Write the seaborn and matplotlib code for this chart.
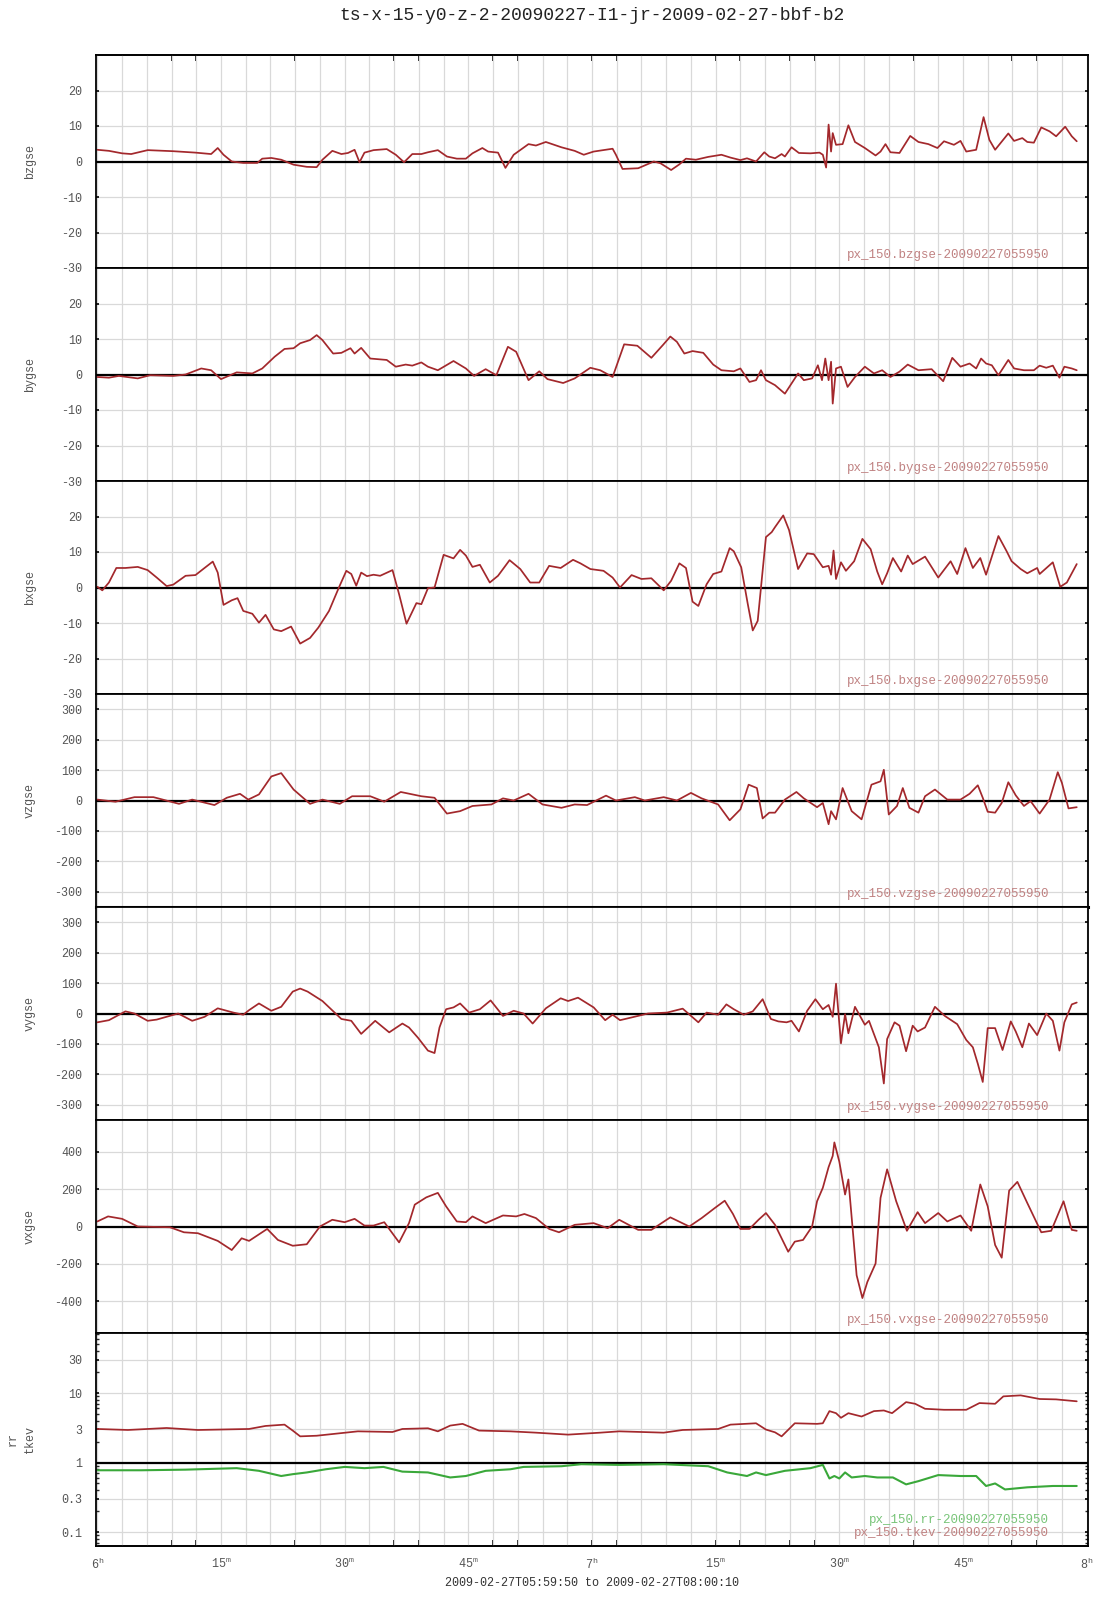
import matplotlib
matplotlib.use("Agg")
import matplotlib.pyplot as plt
import seaborn as sns
import pandas as pd
from matplotlib.ticker import FixedLocator, MultipleLocator, FixedFormatter, NullFormatter

title = "ts-x-15-y0-z-2-20090227-I1-jr-2009-02-27-bbf-b2"
range_label = "2009-02-27T05:59:50 to 2009-02-27T08:00:10"

# time in minutes after 06:00
t_bz = [0, 1.4, 3, 4.1, 6.1, 9.2, 11.9, 13.8, 14.6, 15.3, 16.3, 17.7, 19.4, 20, 21.1, 22.3, 23.8, 25.4, 26.6,
        27.3, 28.5, 29.6, 30.4, 31.2, 31.8, 32.4, 33.5, 35.1, 36.2, 37.2, 38.2, 39.3, 40.1, 41.3, 42.4, 43.6,
        44.7, 45.5, 46.7, 47.4, 48.6, 49.5, 50.5, 52.3, 53.2, 54.4, 56.3, 57.9, 59, 60.2, 62.5, 62.9, 63.7,
        65.6, 67.5, 68.3, 69.6, 70.6, 71.4, 72.6, 74.1, 75.7, 76.8, 78, 78.8, 79.9, 80.9, 81.5, 82.2, 83,
        83.4, 84.2, 85.1, 86.5, 87.6, 88, 88.4, 88.7, 89, 89.2, 89.6, 90.4, 91.1, 91.9, 93.1, 94.4, 95, 95.6,
        96.2, 97.3, 98.6, 99.6, 100.8, 101.9, 102.7, 103.9, 104.7, 105.4, 106.6, 107.5, 108.2, 108.9, 110.5,
        111.2, 112.2, 112.8, 113.6, 114.5, 115.5, 116.3, 117.4, 118.2, 118.8]
bzgse = [3.3, 3.0, 2.3, 2.1, 3.2, 2.9, 2.5, 2.1, 3.8, 1.9, 0, -0.4, -0.4, 0.8, 1.0, 0.5, -0.9, -1.5, -1.6,
         0.5, 3.0, 2.1, 2.4, 3.3, -0.2, 2.5, 3.2, 3.5, 1.9, -0.2, 2.1, 2.1, 2.6, 3.2, 1.4, 0.8,
         0.8, 2.3, 3.8, 2.8, 2.5, -1.8, 1.9, 4.9, 4.5, 5.5, 4.0, 3.0, 1.9, 2.8, 3.6, 1.9, -2.1,
         -1.9, 0, -0.5, -2.4, -0.8, 0.8, 0.5, 1.3, 1.9, 1.1, 0.4, 0.9, 0, 2.6, 1.4, 0.9, 2.1,
         1.4, 4.0, 2.4, 2.3, 2.5, 1.9, -1.7, 10.4, 2.8, 8.0, 4.7, 4.9, 10.2, 5.5, 3.8, 1.7, 2.8, 4.9,
         2.6, 2.4, 7.2, 5.5, 4.9, 3.8, 5.7, 4.7, 5.8, 2.8, 3.3, 12.5, 6.1, 3.3, 7.9,
         5.8, 6.6, 5.5, 5.3, 9.6, 8.5, 7.1, 9.8, 7.1, 5.7]

t_by = [0, 1.4, 2.6, 4.9, 6.4, 9.2, 10.7, 12.6, 13.8, 15, 16.9, 18.8, 20, 21.5, 22.7, 23.8, 24.6, 25.8, 26.6,
        27.3, 28.6, 29.6, 30.7, 31.2, 32, 33.1, 35.1, 36.2, 37.4, 38.2, 39.3, 40.1, 41.3, 43.2, 44.7, 45.7,
        47.1, 48.4, 49.8, 50.8, 52.3, 53.6, 54.6, 56.5, 57.9, 59.8, 61, 62.5, 63.9, 65.5, 67.2, 68.6, 69.5,
        70.3, 71.2, 72.2, 73.5, 74.7, 75.7, 77.2, 78, 79.1, 79.9, 80.5, 81.1, 82.2, 83.4, 85, 85.7, 86.7,
        87.4, 87.9, 88.3, 88.7, 89, 89.2, 89.6, 90.2, 91, 91.9, 93.1, 94.2, 95.2, 96.2, 97.3, 98.3, 99.6,
        101.2, 102.6, 103.7, 104.7, 105.8, 106.6, 107.2, 107.8, 108.5, 109.3, 110.5, 111.2, 112.4, 113.6,
        114.3, 115.1, 115.9, 116.7, 117.3, 118.2, 118.8]
bygse = [-0.7, -0.9, -0.4, -1.1, -0.2, -0.4, 0, 1.7, 1.2, -1.3, 0.6, 0.3, 1.7, 5.0, 7.2, 7.4, 8.8, 9.7, 11.1,
         9.7, 5.9, 6.1, 7.4, 5.9, 7.5, 4.5, 4.1, 2.2, 2.8, 2.5, 3.4, 2.2, 1.2, 3.8, 1.7, -0.4,
         1.5, -0.2, 7.8, 6.4, -1.6, 0.9, -1.3, -2.4, -1.1, 1.9, 1.2, -0.7, 8.5, 8.1, 4.7, 8.3, 10.7,
         9.2, 5.9, 6.6, 6.1, 2.8, 1.2, 0.9, 1.7, -2.1, -1.6, 1.2, -1.6, -3.0, -5.4, 0.3, -1.6, -1.1,
         2.6, -1.6, 4.5, -1.6, 3.6, -8.2, 1.7, 2.2, -3.5, -0.7, 2.2, 0.3, 1.2, -0.7, 0.8, 2.8, 1.2,
         1.5, -1.9, 4.7, 2.2, 3.1, 1.7, 4.5, 3.1, 2.6, -0.2, 4.1, 1.7, 1.2, 1.2,
         2.5, 1.9, 2.5, -0.9, 2.2, 1.7, 1.2]

t_bx = [0, 0.6, 1.4, 2.3, 3.4, 4.9, 6.1, 7.2, 8.4, 9.2, 10.7, 11.9, 13, 14, 14.6, 15.3, 16.3, 17.0, 17.7, 18.8,
        19.6, 20.4, 21.4, 22.3, 23.5, 24.6, 25.8, 26.8, 28.1, 29.3, 30.2, 30.8, 31.4, 32, 32.7, 33.5, 34.3,
        35.8, 36.6, 37.5, 38.7, 39.3, 40.1, 40.9, 42, 43.2, 44, 44.7, 45.5, 46.4, 47.6, 48.6, 50, 51.3, 52.5,
        53.6, 54.8, 56.2, 57.7, 58.6, 59.8, 61.4, 62.5, 63.4, 64.8, 66, 67.2, 68.7, 69.6, 70.6, 71.4, 72.2,
        72.9, 73.9, 74.7, 75.7, 76.7, 77.2, 78.1, 78.9, 79.5, 80.1, 81.1, 81.8, 82.2, 83.2, 83.9, 85, 86.1,
        86.9, 88, 88.7, 89, 89.3, 89.6, 90.2, 90.8, 91.8, 92.8, 93.8, 94.6, 95.2, 95.8, 96.5, 97.5, 98.3,
        98.9, 100.4, 102, 103.5, 104.3, 105.3, 106.2, 107.1, 107.8, 109.3, 110.3, 110.9, 112.0, 112.8, 114.0,
        114.3, 115.9, 116.8, 117.6, 118.8]
bxgse = [0.2, -0.8, 1.4, 5.5, 5.5, 5.8, 4.9, 2.8, 0.4, 0.8, 3.3, 3.5, 5.5, 7.3, 4.2, -4.9, -3.6, -3.0, -6.6, -7.4,
         -9.9, -7.7, -11.8, -12.3, -11.0, -15.8, -14.2, -11.3, -6.6, 0, 4.7, 3.8, 0.5, 4.2, 3.2, 3.6, 3.3,
         4.9, -1.9, -10.2, -4.4, -4.7, -0.2, 0, 9.2, 8.2, 10.6, 9.0, 5.8, 6.4, 1.4, 3.3, 7.7, 5.2, 1.4,
         1.4, 6.1, 5.5, 7.8, 6.8, 5.2, 4.7, 2.8, 0, 3.5, 2.4, 2.6, -0.8, 1.9, 6.8, 5.5, -4.0,
         -5.2, 0.9, 3.8, 4.5, 11.1, 10.2, 5.7, -4.7, -12.1, -9.4, 14.2, 15.6, 17.0, 20.3, 16.2, 5.2, 9.6,
         9.4, 5.7, 6.1, 3.6, 10.4, 2.4, 7.1, 4.7, 7.4, 13.7, 10.8, 4.5, 0.9, 4.0, 8.3, 4.5, 9.0,
         6.6, 8.7, 2.8, 7.4, 3.8, 11.1, 5.5, 8.3, 3.6, 14.5, 10.2, 7.4, 5.2, 4.0, 5.5,
         3.8, 7.1, 0.2, 1.4, 6.6]

t_vz = [0, 2.2, 4.5, 6.8, 9.9, 11.5, 14.2, 15.7, 17.3, 18.3, 19.6, 21.1, 22.3, 23.8, 25.8, 27.3, 29.4, 30.9,
        33.1, 34.8, 36.8, 39.3, 40.9, 42.4, 44, 45.5, 47.8, 49.2, 50.5, 52.3, 54, 56.3, 57.9, 59.4, 61.7,
        62.9, 65.2, 66.4, 68.7, 70.3, 72, 73.3, 75.3, 76.7, 78, 79, 80, 80.7, 81.5, 82.2, 83.4, 84.8, 85.7,
        87.3, 88, 88.7, 89, 89.6, 90.4, 91.5, 92.7, 93.9, 95, 95.4, 96, 97, 97.7, 98.5, 99.6, 100.4, 101.6,
        103.1, 104.7, 105.8, 106.8, 107.4, 108, 108.9, 109.7, 110.5, 111.4, 112.4, 113.2, 114.3, 115.5,
        116.5, 117, 117.8, 118.8]
vzgse = [3, -4, 11, 11, -11, 3, -15, 9, 22, 3, 20, 79, 90, 36, -11, 3, -11, 14,
         14, -4, 28, 14, 9, -43, -35, -18, -13, 7, 0, 22, -13, -24, -13, -15, 16,
         0, 11, 0, 11, 0, 25, 7, -13, -65, -29, 52, 41, -59, -40, -40, 3, 28, 7,
         -22, -8, -78, -35, -62, 41, -35, -62, 52, 63, 101, -46, -18, 41, -24, -40, 14, 36,
         3, 3, 22, 50, 9, -37, -40, -8, 60, 17, -18, -2, -43, 3,
         93, 58, -26, -22]

t_vy = [0, 1.4, 3.4, 4.5, 6.1, 7.2, 9.8, 11.5, 13, 14.6, 16.5, 17.7, 18.4, 19.6, 21.1, 22.3, 23.7, 24.6, 25.5,
        27.3, 29.6, 30.8, 32, 33.7, 35.4, 37, 37.8, 38.9, 40.1, 40.9, 41.5, 42.3, 43.2, 44, 45.1, 46.4, 47.7,
        49.2, 50.5, 51.7, 52.8, 54.4, 56.2, 57.1, 58.3, 60.2, 61.6, 62.5, 63.4, 64.8, 66.8, 69.1, 71, 72.9,
        73.9, 75.3, 76.3, 77.2, 78.4, 79.5, 80.7, 81.7, 82.6, 83.6, 84.2, 85.1, 86.1, 87.1, 88, 88.7, 89.2,
        89.6, 90.2, 90.7, 91.1, 91.9, 93.1, 93.6, 94.8, 95.4, 95.8, 96.7, 97.3, 98.1, 98.9, 99.5, 100.4,
        101.6, 102.8, 104.3, 105.4, 106.2, 106.8, 107.4, 108, 108.9, 109.8, 110.8, 111.4, 112.2, 113, 114,
        115.1, 115.9, 116.7, 117.3, 118.2, 118.8]
vygse = [-29, -22, 7, 0, -24, -20, 0, -24, -11, 17, 3, -4, 11, 33, 9, 22, 72, 82, 72,
         41, -18, -24, -67, -24, -62, -33, -46, -80, -122, -130, -46, 14, 20, 33, 3, 14, 43,
         -8, 9, 0, -33, 17, 50, 41, 52, 20, -22, -4, -22, -13, 0, 3, 16, -29,
         3, -4, 30, 14, -4, 7, 47, -18, -26, -29, -24, -59, 9, 47, 14, 28, -11,
         98, -98, -2, -65, 22, -37, -24, -111, -230, -84, -29, -40, -124, -40, -59, -46,
         22, -8, -35, -87, -111, -165, -225, -48, -48, -120, -26, -59, -111, -33, -71,
         0, -24, -122, -29, 30, 36]

t_vx = [0, 1.3, 3, 4.9, 8.8, 10.5, 12.2, 14.6, 16.3, 17.5, 18.4, 20.6, 21.9, 23.7, 25.4, 27, 28.5, 30.0, 31.2,
        32.4, 33.5, 34.8, 36.6, 37.8, 38.5, 39.9, 41.3, 42.3, 43.6, 44.7, 45.5, 47.1, 49.2, 50.8, 51.8, 53.2,
        54.8, 56, 57.9, 60.2, 61.9, 63.3, 65.6, 67.2, 69.5, 71.8, 73.3, 74.9, 76.1, 77.1, 78, 79.1, 80.2,
        81.1, 82.2, 83.8, 84.6, 85.6, 86.7, 87.3, 88.0, 88.7, 89.2, 89.4, 90, 90.7, 91.1, 91.7, 92.1, 92.8,
        93.4, 94.4, 95.0, 95.8, 96.9, 98.2, 99.5, 100.4, 102, 103.1, 104.7, 106, 107.1, 108, 108.9, 109.7,
        110.6, 111.6, 112.8, 114.5, 115.7, 117.2, 118.2, 118.8]
vxgse = [27, 54, 41, 0, -4, -31, -36, -77, -126, -63, -77, -13, -72, -103, -95, 0, 36, 23, 41,
         5, 5, 23, -85, 18, 117, 156, 180, 108, 27, 23, 54, 18, 59, 54, 67, 45,
         -13, -31, 9, 18, -9, 36, -18, -18, 49, 0, 45, 99, 138, 67, -13, -13, 36,
         72, 9, -135, -81, -72, 0, 135, 207, 318, 378, 450, 347, 171, 252, -54, -261, -383,
         -297, -198, 153, 306, 135, -23, 77, 18, 72, 27, 59, -23, 225, 108, -99, -167,
         192, 239, 126, -31, -23, 135, -18, -23]

t_tk = [0, 3.7, 8.4, 12.2, 18.4, 20.4, 22.7, 23.7, 24.6, 26.6, 31.6, 35.8, 37, 40.1, 41.3, 42.8, 44.3, 46.3,
        50.1, 53.2, 57.1, 61, 63.3, 68.7, 71, 75.3, 76.8, 79.9, 81.1, 82.2, 83, 84.6, 87.3, 88.0, 88.8, 89.6,
        90.2, 91.1, 92.7, 94.2, 95.4, 96.4, 98.1, 99.2, 100.4, 102.7, 105.4, 107, 108.9, 109.9, 112.0, 114.3,
        116.3, 118.8]
tkev = [3.04, 2.94, 3.14, 2.94, 3.04, 3.36, 3.51, 2.88, 2.38, 2.43, 2.81, 2.75, 3.04, 3.11, 2.81, 3.40, 3.60, 2.88,
        2.81, 2.69, 2.52, 2.69, 2.81, 2.69, 2.94, 3.04, 3.51, 3.67, 2.98, 2.72, 2.38, 3.67, 3.60, 3.67, 5.49, 5.13,
        4.40, 5.13, 4.59, 5.49, 5.61, 5.13, 7.4, 7.0, 5.93, 5.74, 5.74, 7.17, 7.0, 8.95, 9.25, 8.2,
        8.1, 7.6]

t_rr = [0, 5.3, 10.7, 16.9, 19.6, 22.3, 23.7, 25.4, 27.7, 30.0, 32.4, 34.7, 37, 40.1, 42.8, 44.7, 47.1, 50.1,
        51.7, 56.3, 58.7, 63.3, 68.7, 74.1, 76.4, 78.8, 79.9, 81.1, 83.4, 86.5, 88, 88.8, 89.4, 90, 90.7, 91.5,
        93.1, 94.6, 96.5, 98.1, 99.6, 102, 104.7, 106.6, 107.8, 108.9, 110.1, 112.8, 115.9, 118.8]
rr = [0.774, 0.774, 0.79, 0.83, 0.76, 0.64, 0.68, 0.72, 0.80, 0.865, 0.83, 0.865, 0.74, 0.72, 0.61, 0.64, 0.76, 0.80,
      0.865, 0.885, 0.946, 0.925, 0.946, 0.885, 0.72, 0.64, 0.72, 0.66, 0.76, 0.83, 0.925, 0.59, 0.64, 0.59, 0.72, 0.61,
      0.64, 0.61, 0.61, 0.485, 0.54, 0.66, 0.64, 0.64, 0.46, 0.50, 0.41, 0.44, 0.46, 0.46]

lin_ticks_b = [20, 10, 0, -10, -20, -30]
lin_ticks_v = [300, 200, 100, 0, -100, -200, -300]
lin_ticks_vx = [400, 200, 0, -200, -400]
log_ticks = [30, 10, 3, 1, 0.3, 0.1]
log_tick_labels = ["30", "10", "3", "1", "0.3", "0.1"]
x_label_pos = [0, 15, 30, 45, 60, 75, 90, 105, 120]
x_labels = ["6^{h}", "15^{m}", "30^{m}", "45^{m}", "7^{h}", "15^{m}", "30^{m}", "45^{m}", "8^{h}"]
odd_ticks = [9, 12, 24, 36, 39, 48, 51, 60, 63, 75, 78, 84, 87, 99, 111, 114]
stamp = "20090227055950"

RED = "#a3282c"
GREEN = "#3aa83a"
RED_TXT = "#c08282"
GREEN_TXT = "#78c478"
GRAY = "#555555"
GRID = "#d9d9d9"

sns.set_theme(style="white")
plt.rcParams["font.family"] = ["Liberation Mono", "DejaVu Sans Mono"]
plt.rcParams["axes.unicode_minus"] = False
plt.rcParams["mathtext.default"] = "regular"

fig = plt.figure(figsize=(11.07, 16), dpi=100)
axes = fig.subplots(7, 1, sharex=True, gridspec_kw=dict(hspace=0))
fig.subplots_adjust(left=96 / 1107, right=1088 / 1107, top=1 - 55 / 1600, bottom=1 - 1546 / 1600)

panels = [
    ("bzgse", t_bz, bzgse, (-30, 30), lin_ticks_b),
    ("bygse", t_by, bygse, (-30, 30), lin_ticks_b),
    ("bxgse", t_bx, bxgse, (-30, 30), lin_ticks_b),
    ("vzgse", t_vz, vzgse, (-350, 350), lin_ticks_v),
    ("vygse", t_vy, vygse, (-350, 350), lin_ticks_v),
    ("vxgse", t_vx, vxgse, (-570, 570), lin_ticks_vx),
]

def style_axis(ax):
    for s in ax.spines.values():
        s.set_color("black")
        s.set_linewidth(1.3)
        s.set_visible(True)
    ax.set_xlim(-10 / 60, 120 + 10 / 60)
    ax.xaxis.set_major_locator(FixedLocator(x_label_pos))
    ax.xaxis.set_minor_locator(MultipleLocator(3))
    ax.tick_params(axis="x", which="both", length=0, labelbottom=False)
    ax.xaxis.grid(True, which="both", color=GRID, lw=0.9)
    ax.yaxis.grid(True, which="major", color=GRID, lw=0.9)
    ax.yaxis.grid(False, which="minor")
    ax.tick_params(axis="y", which="major", direction="in", length=2.5, width=1.2, left=True, right=True,
                   labelleft=True, labelright=False, pad=10, labelsize=8.5, labelcolor=GRAY, color="black")
    ax.set_xlabel("")
    ax.set_ylabel("")
    ax.set_axisbelow(True)

for ax, (name, t, v, lim, ticks) in zip(axes[:6], panels):
    df = pd.DataFrame({"t": t, "v": v})
    sns.lineplot(data=df, x="t", y="v", ax=ax, color=RED, lw=1.25, estimator=None, sort=False)
    ax.axhline(0, color="black", lw=1.6, zorder=1.5)
    ax.set_ylim(*lim)
    ax.yaxis.set_major_locator(FixedLocator(ticks))
    ax.yaxis.set_major_formatter(FixedFormatter([str(x) for x in ticks]))
    style_axis(ax)
    ax.text(-0.0665, 0.5, name, transform=ax.transAxes, rotation=90, ha="center", va="center",
            fontsize=8.5, color=GRAY)
    ax.text(0.961, 0.061, f"px_150.{name}-{stamp}", transform=ax.transAxes, ha="right", va="center",
            fontsize=9, color=RED_TXT)

axes[3].spines["bottom"].set_linewidth(2.2)

ax = axes[6]
ax.set_yscale("log")
sns.lineplot(data=pd.DataFrame({"t": t_tk, "v": tkev}), x="t", y="v", ax=ax, color=RED, lw=1.25,
             estimator=None, sort=False)
sns.lineplot(data=pd.DataFrame({"t": t_rr, "v": rr}), x="t", y="v", ax=ax, color=GREEN, lw=1.5,
             estimator=None, sort=False)
ax.axhline(1, color="black", lw=1.6, zorder=1.5)
ax.set_ylim(0.063, 73)
ax.yaxis.set_major_locator(FixedLocator(log_ticks))
ax.yaxis.set_major_formatter(FixedFormatter(log_tick_labels))
ax.yaxis.set_minor_formatter(NullFormatter())
style_axis(ax)
ax.tick_params(axis="y", which="minor", direction="in", length=2, width=1, left=True, right=True)
ax.text(-0.0751, 0.5, "rr\ntkev", transform=ax.transAxes, rotation=90, ha="center", va="center",
        fontsize=8.5, color=GRAY, linespacing=1.6, multialignment="center")
ax.text(0.961, 0.122, f"px_150.rr-{stamp}", transform=ax.transAxes, ha="right", va="center",
        fontsize=9, color=GREEN_TXT)
ax.text(0.961, 0.061, f"px_150.tkev-{stamp}", transform=ax.transAxes, ha="right", va="center",
        fontsize=9, color=RED_TXT)
ax.tick_params(axis="x", which="major", labelbottom=True, labelsize=8.5, labelcolor=GRAY, pad=8)
ax.set_xticklabels([f"${s}$" for s in x_labels])

# small inward ticks on outer frame
sec_top = axes[0].secondary_xaxis("top")
sec_top.set_xticks(odd_ticks)
sec_top.tick_params(direction="in", length=4, width=1.2, labeltop=False, color="black")
sec_top.spines["top"].set_linewidth(1.3)
sec_bot = axes[6].secondary_xaxis("bottom")
sec_bot.set_xticks(odd_ticks)
sec_bot.tick_params(direction="in", length=4, width=1.2, labelbottom=False, color="black")
sec_bot.spines["bottom"].set_linewidth(1.3)

fig.text(592 / 1107, 1 - 15 / 1600, title, ha="center", va="center", fontsize=13, color="#222222")
fig.text(592 / 1107, 1 - 1583 / 1600, range_label, ha="center", va="center", fontsize=8.5, color="#333333")

fig.savefig("out.png", dpi=100, facecolor="white")
